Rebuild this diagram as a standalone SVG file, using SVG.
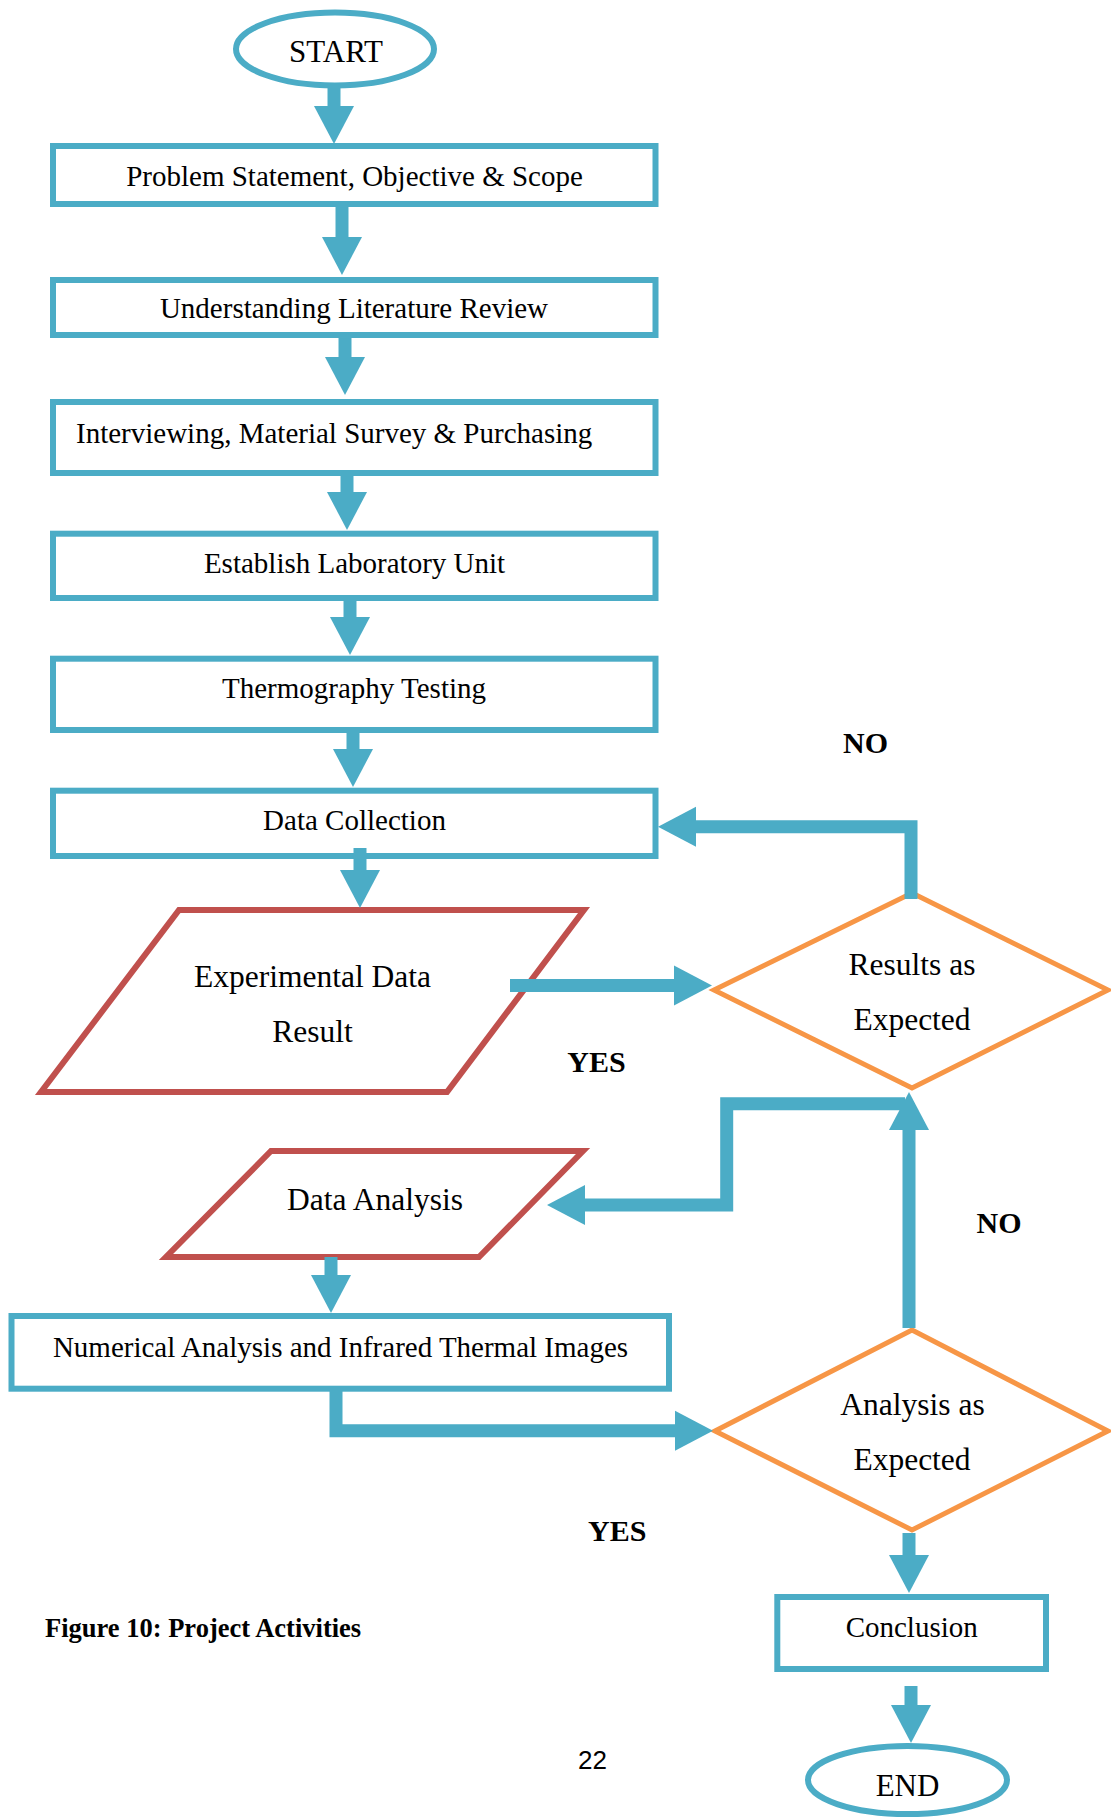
<svg xmlns="http://www.w3.org/2000/svg" width="1111" height="1817" viewBox="0 0 1111 1817">
  <style>
    .proc { fill: #ffffff; stroke: #4BACC6; stroke-width: 6; }
    .term { fill: #ffffff; stroke: #4BACC6; stroke-width: 6; }
    .io { fill: #ffffff; stroke: #C0504D; stroke-width: 6; stroke-linejoin: miter; }
    .dec { fill: #ffffff; stroke: #F79646; stroke-width: 5; stroke-linejoin: miter; }
    .flow { fill: none; stroke: #4BACC6; stroke-width: 13; stroke-linejoin: miter; marker-end: url(#head); }
    .t { font-family: "Liberation Serif", "Times New Roman", serif; fill: #000000; }
    .box { font-size: 29px; text-anchor: middle; }
    .big { font-size: 31.5px; text-anchor: middle; }
    .lbl { font-family: "Liberation Serif", "Times New Roman", serif; font-weight: bold; font-size: 30px; fill: #000000; }
  </style>
  <defs>
    <marker id="head" markerUnits="userSpaceOnUse" markerWidth="40" markerHeight="40" refX="0" refY="20" orient="auto" overflow="visible">
      <path d="M0,0 L38,20 L0,40 Z" fill="#4BACC6"/>
    </marker>
  </defs>
  <rect width="1111" height="1817" fill="#ffffff"/>

  <!-- terminals -->
  <g id="start">
    <ellipse class="term" cx="335" cy="49" rx="99" ry="36.5"/>
    <text class="t" x="336" y="62.3" font-size="31" text-anchor="middle">START</text>
  </g>

  <!-- process steps -->
  <g id="problem-statement">
    <rect class="proc" x="53" y="146" width="602.5" height="58"/>
    <text class="t box" x="354.5" y="186">Problem Statement, Objective &amp; Scope</text>
  </g>
  <g id="literature-review">
    <rect class="proc" x="53" y="280" width="602.5" height="55"/>
    <text class="t box" x="354" y="318">Understanding Literature Review</text>
  </g>
  <g id="interviewing">
    <rect class="proc" x="53" y="402" width="602.5" height="71"/>
    <text class="t" x="76" y="442.7" font-size="29">Interviewing, Material Survey &amp; Purchasing</text>
  </g>
  <g id="laboratory-unit">
    <rect class="proc" x="53" y="533.7" width="602.5" height="64.3"/>
    <text class="t box" x="354.5" y="573">Establish Laboratory Unit</text>
  </g>
  <g id="thermography">
    <rect class="proc" x="53" y="658.7" width="602.5" height="71.3"/>
    <text class="t box" x="354" y="697.7">Thermography Testing</text>
  </g>
  <g id="data-collection">
    <rect class="proc" x="53" y="790.7" width="602.5" height="65.3"/>
    <text class="t box" x="354.5" y="830">Data Collection</text>
  </g>

  <!-- data / input-output -->
  <g id="experimental-data">
    <polygon class="io" points="179,910 584,910 447,1092 41,1092"/>
    <text class="t big" x="312.5" y="986.7">Experimental Data</text>
    <text class="t big" x="312.5" y="1041.7">Result</text>
  </g>

  <!-- decisions -->
  <g id="results-expected">
    <polygon class="dec" points="912,893 1108,990 912,1088 714,990"/>
    <text class="t big" x="912" y="975">Results as</text>
    <text class="t big" x="912" y="1030">Expected</text>
  </g>

  <g id="data-analysis">
    <polygon class="io" points="271,1151 583,1151 479,1257 166,1257"/>
    <text class="t big" x="375" y="1210">Data Analysis</text>
  </g>

  <g id="numerical-analysis">
    <rect class="proc" x="11.5" y="1316" width="657.5" height="72.7"/>
    <text class="t box" x="340.5" y="1356.7">Numerical Analysis and Infrared Thermal Images</text>
  </g>

  <g id="analysis-expected">
    <polygon class="dec" points="912,1330 1108,1431 912,1530 715,1431"/>
    <text class="t big" x="912.5" y="1415">Analysis as</text>
    <text class="t big" x="912" y="1470">Expected</text>
  </g>

  <g id="conclusion">
    <rect class="proc" x="777.3" y="1597" width="268.7" height="72"/>
    <text class="t box" x="911.7" y="1636.7">Conclusion</text>
  </g>

  <g id="end">
    <ellipse class="term" cx="907.5" cy="1780" rx="99.5" ry="34"/>
    <text class="t" x="907.5" y="1796" font-size="31" text-anchor="middle">END</text>
  </g>

  <!-- connectors, drawn over the node outlines -->
  <g id="connectors">
    <path class="flow" d="M334,86 L334,106"/>
    <path class="flow" d="M342,207 L342,237"/>
    <path class="flow" d="M345,338 L345,357"/>
    <path class="flow" d="M347,476 L347,492"/>
    <path class="flow" d="M350,601 L350,617"/>
    <path class="flow" d="M353,733 L353,749"/>
    <path class="flow" d="M360,848 L360,870"/>
    <path class="flow" d="M510,985.5 L674,985.5"/>
    <path class="flow" d="M911,899 L911,826.7 L696,826.7"/>
    <path class="flow" d="M909,1328 L909,1130"/>
    <path class="flow" d="M905,1103.7 L726.7,1103.7 L726.7,1205 L585,1205"/>
    <path class="flow" d="M331,1257 L331,1275"/>
    <path class="flow" d="M336,1391 L336,1430.7 L675,1430.7"/>
    <path class="flow" d="M909,1533 L909,1555"/>
    <path class="flow" d="M911,1686 L911,1705"/>
  </g>

  <!-- branch labels -->
  <g id="labels">
    <text class="lbl" x="843" y="752.5">NO</text>
    <text class="lbl" x="567.3" y="1072.3">YES</text>
    <text class="lbl" x="976.6" y="1233">NO</text>
    <text class="lbl" x="588" y="1541">YES</text>
  </g>

  <!-- caption and page number -->
  <text class="t" x="45" y="1636.7" font-size="26.5" font-weight="bold">Figure 10: Project Activities</text>
  <text x="578" y="1769.3" font-family="Liberation Sans, Arial, sans-serif" font-size="26" fill="#000000">22</text>
</svg>
